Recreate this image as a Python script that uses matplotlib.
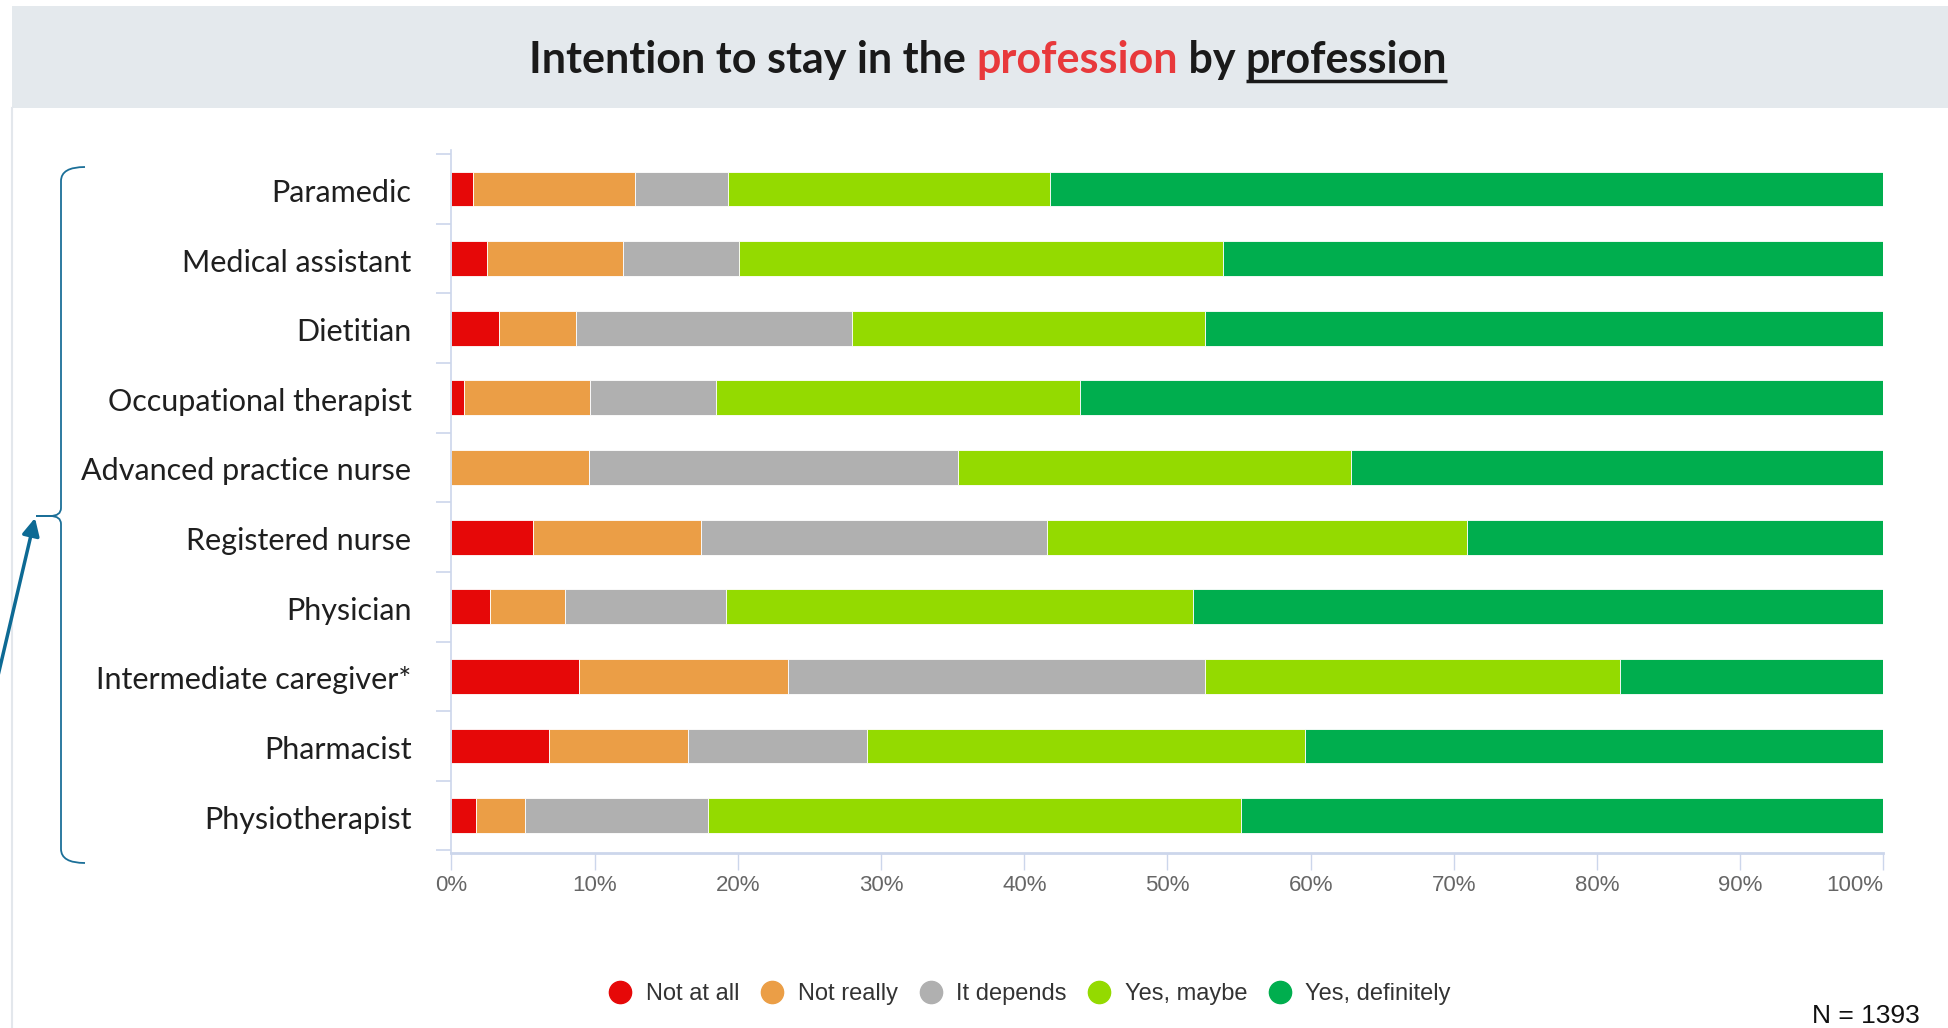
import matplotlib
matplotlib.use("Agg")
import matplotlib.pyplot as plt
import numpy as np
from matplotlib.patches import Rectangle, PathPatch
from matplotlib.path import Path
from matplotlib.lines import Line2D
from matplotlib.transforms import ScaledTranslation

# Share of answers per profession (%)
professions = ["Paramedic", "Medical assistant", "Dietitian", "Occupational therapist",
               "Advanced practice nurse", "Registered nurse", "Physician",
               "Intermediate caregiver*", "Pharmacist", "Physiotherapist"]
not_at_all = [1.5, 2.5, 3.3, 0.9, 0.0, 5.7, 2.7, 8.9, 6.8, 1.7]
not_really = [11.3, 9.5, 5.4, 8.8, 9.6, 11.7, 5.2, 14.6, 9.7, 3.4]
it_depends = [6.5, 8.1, 19.3, 8.8, 25.8, 24.2, 11.3, 29.1, 12.5, 12.8]
yes_maybe = [22.5, 33.8, 24.6, 25.4, 27.4, 29.3, 32.6, 29.0, 30.6, 37.2]
yes_definitely = [58.2, 46.1, 47.4, 56.1, 37.2, 29.1, 48.2, 18.4, 40.4, 44.9]

series_names = ["Not at all", "Not really", "It depends", "Yes, maybe", "Yes, definitely"]
series_colors = ["#E60808", "#EB9E46", "#B0B0B0", "#94DA00", "#00AE4E"]
x_ticks = list(range(0, 101, 10))
x_tick_labels = [f"{t}%" for t in x_ticks]
n_total = 1393

W, H = 1949, 1028
fig = plt.figure(figsize=(W / 100, H / 100), dpi=100)

# pixel-coordinate layer for the header band, bracket and notes
deco = fig.add_axes([0, 0, 1, 1], zorder=0)
deco.set_xlim(0, W)
deco.set_ylim(H, 0)
deco.axis("off")
deco.add_patch(Rectangle((12, 6), W - 12, 102, color="#E4E9ED", lw=0))
deco.plot([12, 12], [108, H], color="#E3E7EC", lw=1.5)

# title with one red word and one underlined word
renderer = fig.canvas.get_renderer()
title_font = dict(family="Lato", weight="bold", size=31)
pieces = [("Intention to stay in the ", "#1a1a1a"), ("profession", "#E8393B"),
          (" by ", "#1a1a1a"), ("profession", "#1a1a1a")]


def text_width(s):
    t = deco.text(0, 0, s, **title_font)
    w = t.get_window_extent(renderer).width
    t.remove()
    return w


ref_w = text_width("I")
full_text = "".join(p for p, _ in pieces)
total_w = text_width(full_text)
x0 = 988 - total_w / 2
offset = 0
baseline = 73
for i, (s, c) in enumerate(pieces):
    deco.text(x0 + offset, baseline, s, color=c, va="baseline", ha="left", **title_font)
    w_piece = text_width(s)
    if i == len(pieces) - 1:
        deco.plot([x0 + offset, x0 + offset + w_piece], [baseline + 8, baseline + 8],
                  color="#1a1a1a", lw=2.5, solid_capstyle="butt")
    offset = text_width(full_text[:sum(len(p) for p, _ in pieces[:i + 1])] + "I") - ref_w

# bracket on the left with an arrow to its cusp
bc = "#1b6f98"
verts = [(85, 167), (61, 167), (61, 181), (61, 508), (61, 516), (50, 516), (36, 516),
         (50, 516), (61, 516), (61, 524), (61, 849), (61, 863), (85, 863)]
codes = [Path.MOVETO, Path.CURVE3, Path.CURVE3, Path.LINETO, Path.CURVE3, Path.CURVE3,
         Path.LINETO, Path.LINETO, Path.CURVE3, Path.CURVE3, Path.LINETO, Path.CURVE3, Path.CURVE3]
deco.add_patch(PathPatch(Path(verts, codes), fill=False, edgecolor=bc, lw=1.3))
deco.annotate("", xy=(35, 518), xytext=(-3, 680),
              arrowprops=dict(arrowstyle="-|>", color="#0d6a94", lw=2.5, mutation_scale=26,
                              shrinkA=0, shrinkB=0), annotation_clip=False)

deco.text(1920, 1016, f"N = {n_total}", ha="right", va="center",
          family="Liberation Sans", size=19, color="#111111")

# stacked bars
ax = fig.add_axes([451.5 / W, 1 - 852.5 / H, (1883.5 - 451.5) / W, (852.5 - 150) / H], zorder=2)
ax.patch.set_alpha(0)
y = np.arange(len(professions))
left = np.zeros(len(professions))
for name, vals, c in zip(series_names,
                         [not_at_all, not_really, it_depends, yes_maybe, yes_definitely],
                         series_colors):
    vals = np.array(vals)
    ax.barh(y, vals, left=left, height=0.5, color=c, edgecolor="white", linewidth=0.6, label=name)
    left += vals

ax.set_xlim(0, 100)
ax.set_ylim(9.53, -0.56)

# category names sit a little below the bar centre
ax.set_yticks(y)
ax.set_yticklabels([])
label_tf = ax.get_yaxis_transform() + ScaledTranslation(-0.40, -0.04, fig.dpi_scale_trans)
for yi, name in zip(y, professions):
    ax.text(0, yi, name, transform=label_tf, ha="right", va="center",
            family="Lato", size=22, color="#1f1f1f")
ax.set_yticks(np.arange(-0.5, len(professions), 1), minor=True)
ax.tick_params(axis="y", which="major", length=0)
ax.tick_params(axis="y", which="minor", length=11, width=1.2, color="#CCD6EB")
ax.set_xticks(x_ticks)
ax.set_xticklabels(x_tick_labels, family="Liberation Sans", size=16, color="#666666")
ax.xaxis.get_ticklabels()[-1].set_ha("right")
ax.tick_params(axis="x", length=12.5, width=1, color="#CCD6EB", pad=4)
for s in ["top", "right"]:
    ax.spines[s].set_visible(False)
ax.spines["left"].set_color("#CCD6EB")
ax.spines["left"].set_linewidth(1.2)
ax.spines["bottom"].set_color("#CCD6EB")
ax.spines["bottom"].set_linewidth(2)

handles = [Line2D([], [], marker="o", linestyle="", markersize=16,
                  markerfacecolor=c, markeredgecolor=c) for c in series_colors]
fig.legend(handles, series_names, loc="center", bbox_to_anchor=(1031 / W, 1 - 994 / H),
           ncol=5, frameon=False, prop=dict(family="Liberation Sans", size=17),
           labelcolor="#333333", handlelength=0.8, handletextpad=0.67, columnspacing=1.0)

fig.savefig("out.png", dpi=100)
